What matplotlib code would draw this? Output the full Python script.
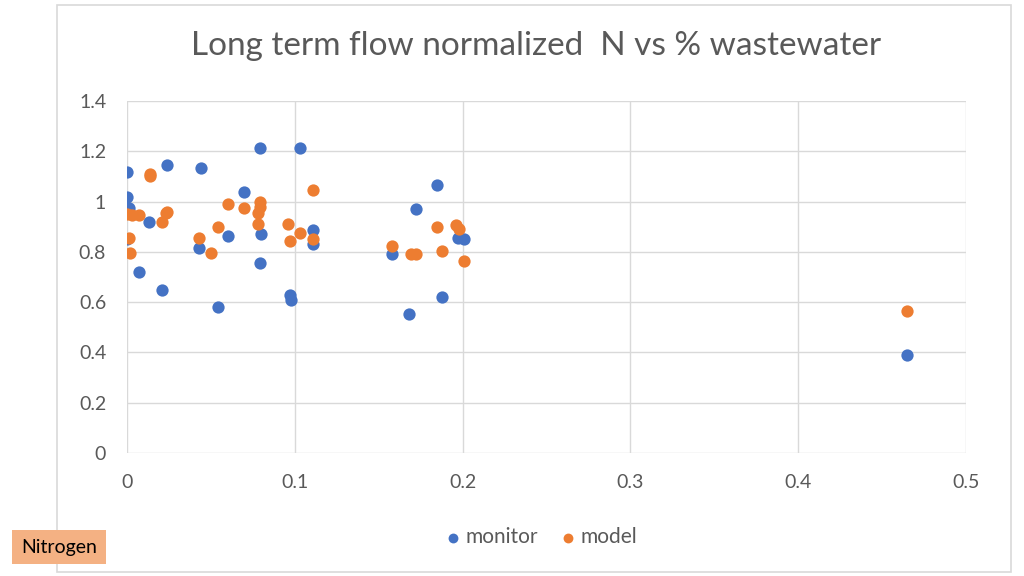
import matplotlib.pyplot as plt
import matplotlib.patches as mpatches

# data
monitor_x = [0.000, 0.000, 0.001, 0.000, 0.007, 0.013, 0.021, 0.024, 0.044, 0.043,
             0.054, 0.060, 0.070, 0.079, 0.080, 0.079, 0.097, 0.098, 0.103, 0.111,
             0.111, 0.158, 0.168, 0.172, 0.185, 0.188, 0.197, 0.201, 0.465]
monitor_y = [1.118, 1.020, 0.975, 0.850, 0.720, 0.920, 0.650, 1.145, 1.135, 0.815,
             0.580, 0.865, 1.040, 1.215, 0.870, 0.755, 0.630, 0.610, 1.215, 0.885,
             0.830, 0.790, 0.553, 0.970, 1.065, 0.620, 0.855, 0.850, 0.390]

model_x = [0.000, 0.003, 0.007, 0.001, 0.002, 0.014, 0.014, 0.021, 0.024, 0.023,
           0.043, 0.050, 0.054, 0.060, 0.070, 0.079, 0.079, 0.078, 0.078, 0.096,
           0.097, 0.103, 0.111, 0.111, 0.158, 0.169, 0.172, 0.185, 0.188, 0.196,
           0.198, 0.201, 0.465]
model_y = [0.950, 0.945, 0.945, 0.855, 0.795, 1.110, 1.100, 0.920, 0.960, 0.955,
           0.855, 0.795, 0.900, 0.990, 0.975, 1.000, 0.980, 0.955, 0.910, 0.910,
           0.845, 0.875, 1.045, 0.850, 0.825, 0.790, 0.790, 0.900, 0.805, 0.905,
           0.890, 0.765, 0.565]

title = 'Long term flow normalized  N vs % wastewater'
x_ticks = [0, 0.1, 0.2, 0.3, 0.4, 0.5]
x_labels = ['0', '0.1', '0.2', '0.3', '0.4', '0.5']
y_ticks = [0, 0.2, 0.4, 0.6, 0.8, 1.0, 1.2, 1.4]
y_labels = ['0', '0.2', '0.4', '0.6', '0.8', '1', '1.2', '1.4']

blue = '#4472c4'
orange = '#ed7d31'
text_gray = '#595959'
grid_gray = '#d9d9d9'

plt.rcParams['font.family'] = ['Lato', 'DejaVu Sans']

fig = plt.figure(figsize=(10.24, 5.76), dpi=100)

# outer chart border
fig.patches.append(mpatches.Rectangle((57 / 1024, 1 - 572 / 576), (1011 - 57) / 1024, (572 - 5) / 576,
                                      transform=fig.transFigure, fill=False, ec=grid_gray, lw=1.2))

ax = fig.add_axes([127 / 1024, 1 - 453 / 576, (966 - 127) / 1024, (453 - 101) / 576])
ax.scatter(monitor_x, monitor_y, s=78, color=blue, label='monitor', zorder=3, linewidths=0)
ax.scatter(model_x, model_y, s=78, color=orange, label='model', zorder=3, linewidths=0)

ax.set_xlim(0, 0.5)
ax.set_ylim(0, 1.4)
ax.set_xticks(x_ticks, x_labels)
ax.set_yticks(y_ticks, y_labels)
ax.tick_params(length=0, labelsize=14, labelcolor=text_gray, pad=15)
ax.grid(True, color=grid_gray, lw=1)
ax.set_axisbelow(True)
for s in ax.spines.values():
    s.set_visible(False)

fig.text(536 / 1024, 1 - 46 / 576, title, ha='center', va='center', fontsize=24, color=text_gray)

leg = fig.legend(loc='center', bbox_to_anchor=(542 / 1024, 1 - 537 / 576), ncol=2, frameon=False,
                 fontsize=15, handlelength=0.6, handletextpad=0.3, columnspacing=1.1, markerscale=0.8)
for t in leg.get_texts():
    t.set_color(text_gray)

fig.text(59 / 1024, 1 - 547 / 576, 'Nitrogen', ha='center', va='center', fontsize=14, color='black',
         bbox=dict(boxstyle='square,pad=0.45', fc='#f4b183', ec='none'))

plt.savefig('out.png', dpi=100)
